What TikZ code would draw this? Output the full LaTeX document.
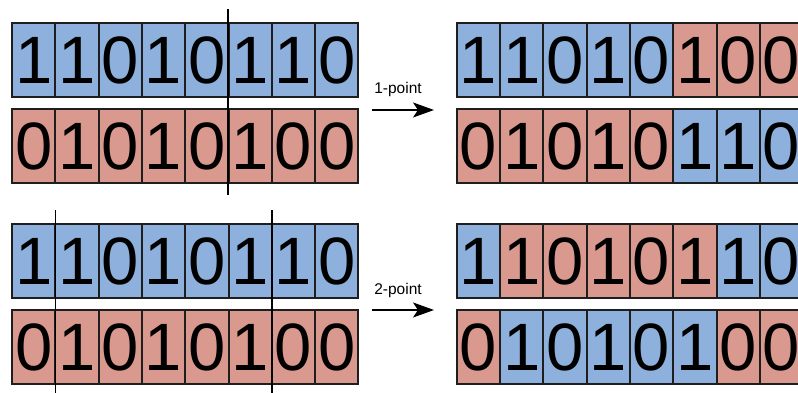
\documentclass[tikz,border=0pt]{standalone}
\usepackage{fontspec}
\setmainfont{Liberation Sans}
\usetikzlibrary{arrows.meta}
\definecolor{cblue}{RGB}{142,176,220}
\definecolor{cred}{RGB}{218,153,142}
\definecolor{edgec}{RGB}{30,30,30}
\tikzset{
  bit/.style={draw=edgec, line width=2pt, minimum width=43.3pt, minimum height=74pt,
    inner sep=0pt, font=\fontsize{67}{67}\selectfont},
  cutline/.style={line width=1.6pt, draw=black},
  oparrow/.style={line width=2pt, -{Stealth[length=21pt,width=15pt,inset=5pt]}},
  oplabel/.style={font=\fontsize{15.5}{16}\selectfont, anchor=base, inner sep=0pt}
}
\newcommand\bitrow[4]{%
  \foreach \b/\c [count=\i from 0] in {#4}{%
    \node[bit, fill=\c] (#1-\i) at ({#2+(\i+0.5)*43.3},{#3+37}) {\b};
  }%
}
\begin{document}
\begin{tikzpicture}[x=1pt,y=-1pt]
\useasboundingbox (0,0) rectangle (798,393);
\begin{scope}
\clip (0,0) rectangle (798,393);
% top-left
\bitrow{ta}{12}{23}{1/cblue,1/cblue,0/cblue,1/cblue,0/cblue,1/cblue,1/cblue,0/cblue}
\bitrow{tb}{12}{109}{0/cred,1/cred,0/cred,1/cred,0/cred,1/cred,0/cred,0/cred}
% top-right
\bitrow{tc}{456.7}{23}{1/cblue,1/cblue,0/cblue,1/cblue,0/cblue,1/cred,0/cred,0/cred}
\bitrow{td}{456.7}{109}{0/cred,1/cred,0/cred,1/cred,0/cred,1/cblue,1/cblue,0/cblue}
% bottom-left
\bitrow{ba}{12}{224}{1/cblue,1/cblue,0/cblue,1/cblue,0/cblue,1/cblue,1/cblue,0/cblue}
\bitrow{bb}{12}{310}{0/cred,1/cred,0/cred,1/cred,0/cred,1/cred,0/cred,0/cred}
% bottom-right
\bitrow{bc}{456.7}{224}{1/cblue,1/cred,0/cred,1/cred,0/cred,1/cred,1/cblue,0/cblue}
\bitrow{bd}{456.7}{310}{0/cred,1/cblue,0/cblue,1/cblue,0/cblue,1/cblue,0/cred,0/cred}
% cut lines
\coordinate (c1t) at (228,9);   \coordinate (c1b) at (228,195);
\coordinate (c2t) at (55.3,210); \coordinate (c2b) at (55.3,400);
\coordinate (c3t) at (271.8,210); \coordinate (c3b) at (271.8,400);
\draw[cutline] (c1t) -- (c1b);
\draw[cutline] (c2t) -- (c2b);
\draw[cutline] (c3t) -- (c3b);
% arrows
\coordinate (a1s) at (372,110); \coordinate (a1e) at (434,110);
\coordinate (a2s) at (372,310); \coordinate (a2e) at (434,310);
\draw[oparrow] (a1s) -- (a1e);
\draw[oparrow] (a2s) -- (a2e);
\node[oplabel] (l1) at (398,94) {1-point};
\node[oplabel] (l2) at (398,294) {2-point};
\end{scope}
\end{tikzpicture}
\end{document}
